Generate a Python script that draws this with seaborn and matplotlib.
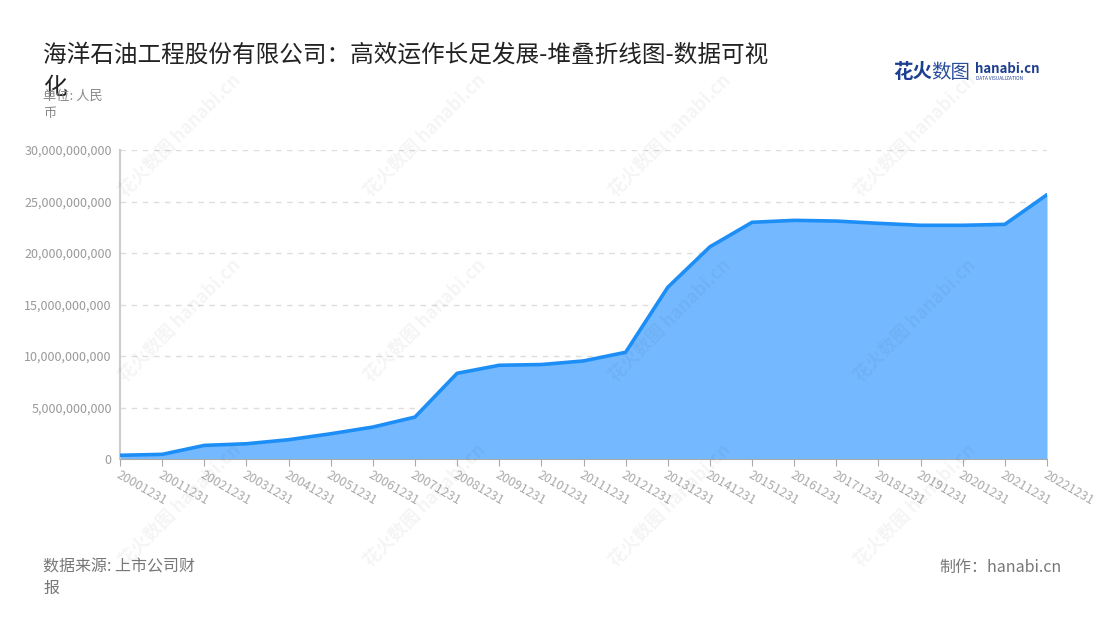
import matplotlib
matplotlib.use('Agg')
import matplotlib.pyplot as plt
from matplotlib.ticker import FuncFormatter
import seaborn as sns
import pandas as pd

# data
dates = ['20001231', '20011231', '20021231', '20031231', '20041231', '20051231',
         '20061231', '20071231', '20081231', '20091231', '20101231', '20111231',
         '20121231', '20131231', '20141231', '20151231', '20161231', '20171231',
         '20181231', '20191231', '20201231', '20211231', '20221231']
revenue = [0.36e9, 0.45e9, 1.32e9, 1.48e9, 1.87e9, 2.45e9,
           3.10e9, 4.07e9, 8.32e9, 9.10e9, 9.17e9, 9.52e9,
           10.36e9, 16.67e9, 20.60e9, 22.98e9, 23.17e9, 23.10e9,
           22.88e9, 22.69e9, 22.69e9, 22.78e9, 25.66e9]
y_ticks = [0, 5e9, 10e9, 15e9, 20e9, 25e9, 30e9]

df = pd.DataFrame({'date': dates, 'revenue': revenue})
df['pos'] = range(len(df))

sns.set_style('white')
plt.rcParams['font.family'] = ['Noto Sans CJK SC', 'DejaVu Sans']

fig = plt.figure(figsize=(11, 6.2), dpi=100)
ax = fig.add_axes([120 / 1100, 1 - 459 / 620, (1047 - 120) / 1100, (459 - 150) / 620])

# faint watermarks
for wx in [180, 425, 670, 915]:
    for wy in [135, 320, 505]:
        fig.text(wx / 1100, 1 - wy / 620, '花火数图 hanabi.cn', rotation=45,
                 fontsize=13, color='#000000', alpha=0.045, ha='center', va='center',
                 fontweight='bold')

ax.fill_between(df['pos'], df['revenue'], 0, color='#74b9ff', linewidth=0, zorder=2)
sns.lineplot(data=df, x='pos', y='revenue', ax=ax, color='#1e8ef7', linewidth=2.6, zorder=3)

ax.set_xlim(0, len(dates) - 1)
ax.set_ylim(0, 30e9)
ax.set_yticks(y_ticks)
ax.yaxis.set_major_formatter(FuncFormatter(lambda v, p: f'{int(v):,}'))
ax.set_xticks(df['pos'])
ax.set_xticklabels(dates, rotation=-30, ha='left', va='top', rotation_mode='anchor')
ax.set_xlabel('')
ax.set_ylabel('')

ax.grid(axis='y', linestyle=(0, (4, 4)), color='#dddddd', linewidth=1, zorder=0)
ax.grid(axis='x', visible=False)
for s in ['top', 'right']:
    ax.spines[s].set_visible(False)
ax.spines['left'].set_color('#cccccc')
ax.spines['left'].set_linewidth(1.5)
ax.spines['bottom'].set_color('#aaaaaa')
ax.tick_params(axis='y', labelsize=9, colors='#999999', length=3, color='#cccccc', pad=3)
ax.tick_params(axis='x', labelsize=9, colors='#999999', length=5, color='#aaaaaa',
               bottom=True, pad=2)
for lbl in ax.get_xticklabels():
    lbl.set_color('#aaaaaa')

# title and annotations
fig.text(43 / 1100, 1 - 55 / 620, '海洋石油工程股份有限公司：高效运作长足发展-堆叠折线图-数据可视',
         fontsize=17, color='#222222', ha='left', va='center')
fig.text(43 / 1100, 1 - 87 / 620, '化', fontsize=17, color='#222222', ha='left', va='center')
fig.text(43 / 1100, 1 - 96 / 620, '单位: 人民', fontsize=9.5, color='#888888', ha='left', va='center')
fig.text(43 / 1100, 1 - 113 / 620, '币', fontsize=9.5, color='#888888', ha='left', va='center')

fig.text(43 / 1100, 1 - 567 / 620, '数据来源: 上市公司财', fontsize=11.5, color='#777777',
         ha='left', va='center')
fig.text(43 / 1100, 1 - 588 / 620, '报', fontsize=11.5, color='#777777', ha='left', va='center')
fig.text(1062 / 1100, 1 - 567 / 620, '制作：hanabi.cn', fontsize=11.5, color='#777777',
         ha='right', va='center')

# logo
fig.text(893 / 1100, 1 - 72 / 620, '花火', fontsize=14, color='#1d3f8f', fontweight='bold',
         ha='left', va='center')
fig.text(931 / 1100, 1 - 72 / 620, '数图', fontsize=14, color='#2a4d9c',
         ha='left', va='center')
fig.text(975 / 1100, 1 - 69 / 620, 'hanabi.cn', fontsize=9.5, color='#1d3f8f', fontweight='bold',
         ha='left', va='center')
fig.text(976 / 1100, 1 - 79 / 620, 'DATA VISUALIZATION', fontsize=3.4, color='#1d3f8f',
         ha='left', va='center')

fig.savefig('out.png', dpi=100)
